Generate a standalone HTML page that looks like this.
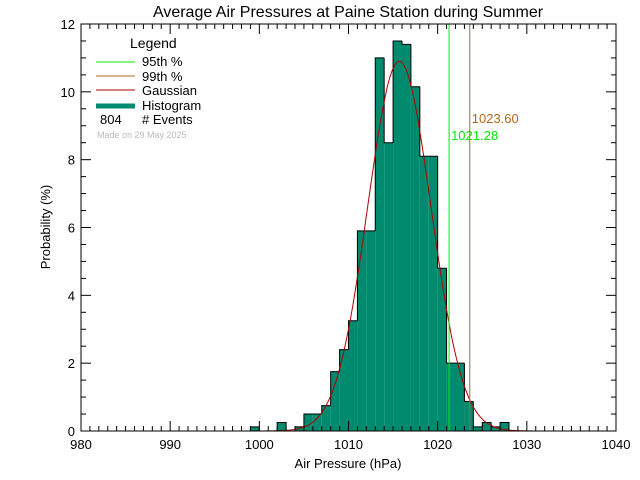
<!DOCTYPE html>
<html><head><meta charset="utf-8"><style>
body{margin:0;background:#fff}
svg{display:block;font-family:"Liberation Sans",sans-serif}
</style></head><body>
<svg id="chart" width="640" height="480" xmlns="http://www.w3.org/2000/svg">
<rect width="640" height="480" fill="#fff"/>
<text x="348" y="17" font-size="16" text-anchor="middle">Average Air Pressures at Paine Station during Summer</text>
<g id="bars"></g>
<g id="gauss"></g>
<g id="pct"></g>
<g id="axes"></g>
<text x="348" y="468" font-size="13" text-anchor="middle">Air Pressure (hPa)</text>
<text x="50" y="227" font-size="13" text-anchor="middle" transform="rotate(-90 50 227)">Probability (%)</text>
<g font-size="13">
<text x="130" y="48" font-size="14">Legend</text>
<line x1="96" y1="62" x2="135" y2="62" stroke="#00ee00"/>
<text x="142" y="66">95th %</text>
<line x1="96" y1="76" x2="135" y2="76" stroke="#b06a20"/>
<text x="142" y="81">99th %</text>
<line x1="96" y1="90" x2="135" y2="90" stroke="#b00000"/>
<text x="142" y="95">Gaussian</text>
<line x1="96" y1="106" x2="135" y2="106" stroke="#008a6e" stroke-width="5"/>
<text x="142" y="110">Histogram</text>
<text x="100" y="124">804</text>
<text x="142" y="124"># Events</text>
<text x="97" y="138" font-size="9" fill="#bbb">Made on 29 May 2025</text>
</g>
</svg>
<script>
const binStarts=[999,1002,1004,1005,1006,1007,1008,1009,1010,1011,1012,1013,1014,1015,1016,1017,1018,1019,1020,1021,1022,1023,1024,1025,1026,1027];
const binValues=[0.12,0.25,0.12,0.5,0.5,0.75,1.75,2.4,3.25,5.9,5.9,11.0,8.5,11.5,11.4,10.15,8.1,8.1,4.8,2.0,2.0,0.87,0.12,0.25,0.12,0.25];
const gaussParams=[1015.7,3.55,10.9]; // mean, sigma, peak
const percentiles=[1021.28,1023.60];
const percentileColors=["#00ee00","#b06a20"];
const xTicks=[980,990,1000,1010,1020,1030,1040];
const yTicks=[0,2,4,6,8,10,12];
const NS="http://www.w3.org/2000/svg";
const X0=81,X1=616,Y0=431,Y1=24;
const xs=v=>X0+(v-980)/60*(X1-X0);
const ys=v=>Y0-v/12*(Y0-Y1);
function mk(t,a,p){const e=document.createElementNS(NS,t);for(const k in a)e.setAttribute(k,a[k]);p.appendChild(e);return e;}
const bars=document.getElementById('bars');
binStarts.forEach((b,i)=>{
 const r=mk('rect',{x:xs(b),y:ys(binValues[i]),width:xs(b+1)-xs(b),height:Y0-ys(binValues[i]),fill:'#008a6e'},bars);
 
 
});
// outline step
let d='';
binStarts.forEach((b,i)=>{
 const prev=(i>0&&binStarts[i-1]+1===b)?binValues[i-1]:0;
 d+=`M${xs(b)},${ys(prev)}V${ys(binValues[i])}H${xs(b+1)}`;
 const next=(i<binStarts.length-1&&binStarts[i+1]===b+1)?null:0;
 if(next===0)d+=`V${Y0}`;
});
const ol=mk('path',{d:d,fill:'none',stroke:'#000','stroke-width':1},bars);


let g='';
for(let v=980;v<=1040;v+=0.1){const y=gaussParams[2]*Math.exp(-Math.pow(v-gaussParams[0],2)/(2*gaussParams[1]*gaussParams[1]));g+=(g?'L':'M')+xs(v).toFixed(1)+','+ys(y).toFixed(1);}
const gp=mk('path',{d:g,fill:'none',stroke:'#b00000','stroke-width':1},document.getElementById('gauss'));


const pg=document.getElementById('pct');
percentiles.forEach((p,i)=>{
 const l=mk('line',{x1:xs(p),x2:xs(p),y1:Y1,y2:Y0,stroke:percentileColors[i]},pg);
 
 
 const t=mk('text',{x:xs(p)+2,y:i===0?140:123,'font-size':13,fill:percentileColors[i]},pg);
 
 
 t.textContent=p.toFixed(2);
});
const ax=document.getElementById('axes');
const fr=mk('rect',{x:X0,y:Y1,width:X1-X0,height:Y0-Y1,fill:'none',stroke:'#000'},ax);


for(let v=980;v<=1040;v++){const L=(v%10===0)?10:5;
 mk('line',{x1:xs(v),x2:xs(v),y1:Y0,y2:Y0-L,stroke:'#000'},ax);
 mk('line',{x1:xs(v),x2:xs(v),y1:Y1,y2:Y1+L,stroke:'#000'},ax);}
for(let v=0;v<=12;v+=0.5){const L=(v%2===0)?10:5;
 mk('line',{x1:X0,x2:X0+L,y1:ys(v),y2:ys(v),stroke:'#000'},ax);
 mk('line',{x1:X1,x2:X1-L,y1:ys(v),y2:ys(v),stroke:'#000'},ax);}
xTicks.forEach(v=>{const t=mk('text',{x:xs(v),y:Y0+18,'font-size':13,'text-anchor':'middle'},ax);
 
 
 t.textContent=v;});
yTicks.forEach(v=>{const t=mk('text',{x:X0-6,y:ys(v)+5,'font-size':13,'text-anchor':'end'},ax);
 
 
 t.textContent=v;});
</script>
</body></html>
